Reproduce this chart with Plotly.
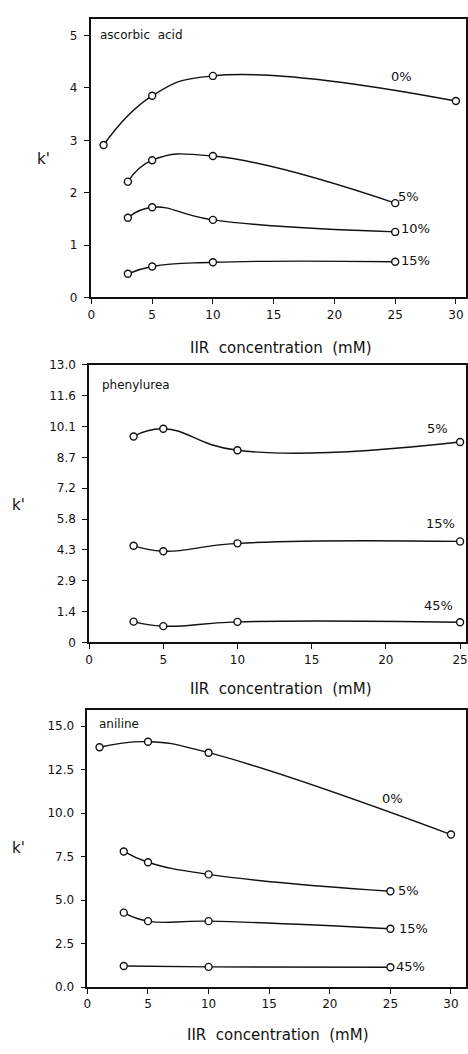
import plotly.graph_objects as go

# ---- data: k' versus IIR concentration (mM) ----
asc_x_0 = [1, 5, 10, 30]
asc_y_0 = [2.91, 3.85, 4.23, 3.75]
asc_x_5 = [3, 5, 10, 25]
asc_y_5 = [2.21, 2.62, 2.70, 1.80]
asc_x_10 = [3, 5, 10, 25]
asc_y_10 = [1.52, 1.72, 1.48, 1.25]
asc_x_15 = [3, 5, 10, 25]
asc_y_15 = [0.45, 0.59, 0.67, 0.68]

phe_x = [3, 5, 10, 25]
phe_y_5 = [9.65, 10.01, 9.00, 9.39]
phe_y_15 = [4.53, 4.27, 4.64, 4.73]
phe_y_45 = [0.97, 0.76, 0.96, 0.94]

ani_x_0 = [1, 5, 10, 30]
ani_y_0 = [13.79, 14.11, 13.48, 8.77]
ani_x_5 = [3, 5, 10, 25]
ani_y_5 = [7.80, 7.18, 6.48, 5.51]
ani_x_15 = [3, 5, 10, 25]
ani_y_15 = [4.28, 3.79, 3.79, 3.35]
ani_x_45 = [3, 10, 25]
ani_y_45 = [1.21, 1.16, 1.14]

asc_ticks = [0, 1, 2, 3, 4, 5]
asc_ticktext = ["0", "1", "2", "3", "4", "5"]
phe_ticks = [0, 13 / 9, 26 / 9, 39 / 9, 52 / 9, 65 / 9, 78 / 9, 91 / 9, 104 / 9, 13]
phe_ticktext = ["0", "1.4", "2.9", "4.3", "5.8", "7.2", "8.7", "10.1", "11.6", "13.0"]
ani_ticks = [0, 2.5, 5, 7.5, 10, 12.5, 15]
ani_ticktext = ["0.0", "2.5", "5.0", "7.5", "10.0", "12.5", "15.0"]

FONT = "DejaVu Sans"
INK = "#111"
W, H = 468, 1054
SP = "\u00a0\u00a0"
XTITLE = "IIR" + SP + "concentration" + SP + "(mM)"

panels = [
    dict(name="ascorbic" + SP + "acid",
         series=[(asc_x_0, asc_y_0, "0%", 25.5, 4.21),
                 (asc_x_5, asc_y_5, "5%", 26.1, 1.93),
                 (asc_x_10, asc_y_10, "10%", 26.7, 1.31),
                 (asc_x_15, asc_y_15, "15%", 26.7, 0.71)],
         px_left=87.5, px_top=13, px_bottom=295, xr=[-0.07, 30.83], yr=[0, 5.32],
         xticks=[0, 5, 10, 15, 20, 25, 30], yticks=asc_ticks, yticktext=asc_ticktext,
         name_xy=(95, 29), k_xy=(40, 155), title_xy=(280, 346)),
    dict(name="phenylurea",
         series=[(phe_x, phe_y_5, "5%", 23.5, 10.04),
                 (phe_x, phe_y_15, "15%", 23.7, 5.57),
                 (phe_x, phe_y_45, "45%", 23.55, 1.74)],
         px_left=86, px_top=363, px_bottom=644.3, xr=[0, 25.4], yr=[0, 13.02],
         xticks=[0, 5, 10, 15, 20, 25], yticks=phe_ticks, yticktext=phe_ticktext,
         name_xy=(97, 384), k_xy=(15, 505), title_xy=(280, 692)),
    dict(name="aniline",
         series=[(ani_x_0, ani_y_0, "0%", 25.2, 10.85),
                 (ani_x_5, ani_y_5, "5%", 26.5, 5.58),
                 (ani_x_15, ani_y_15, "15%", 26.9, 3.35),
                 (ani_x_45, ani_y_45, "45%", 26.7, 1.21)],
         px_left=84.3, px_top=712.7, px_bottom=993.3, xr=[0, 31.24], yr=[0, 15.94],
         xticks=[0, 5, 10, 15, 20, 25, 30], yticks=ani_ticks, yticktext=ani_ticktext,
         name_xy=(94, 727), k_xy=(15, 853), title_xy=(277, 1042)),
]

fig = go.Figure()
layout = dict(
    width=W, height=H,
    margin=dict(l=0, r=0, t=0, b=0),
    paper_bgcolor="white", plot_bgcolor="white",
    showlegend=False,
    font=dict(family=FONT, size=12, color=INK),
)
annotations = []

for i, p in enumerate(panels):
    n = "" if i == 0 else str(i + 1)
    xa, ya = "x" + n, "y" + n
    for xs, ys, lab, lx, ly in p["series"]:
        fig.add_trace(go.Scatter(
            x=xs, y=ys, xaxis=xa, yaxis=ya, mode="lines+markers",
            line=dict(color=INK, width=1.4, shape="spline", smoothing=1.3),
            marker=dict(symbol="circle", size=7, color="white",
                        line=dict(color=INK, width=1.4)),
            cliponaxis=False,
        ))
        annotations.append(dict(x=lx, y=ly, xref=xa, yref=ya, text=lab,
                                showarrow=False, xanchor="center", yanchor="middle",
                                font=dict(family=FONT, size=13, color=INK)))
    dom_x = [p["px_left"] / W, 467 / W]
    dom_y = [1 - p["px_bottom"] / H, 1 - p["px_top"] / H]
    axis_common = dict(showline=True, linecolor=INK, linewidth=1.6, mirror=True,
                       showgrid=False, zeroline=False, ticks="outside",
                       ticklen=5, tickwidth=1.2, tickcolor=INK,
                       tickfont=dict(family=FONT, size=12, color=INK))
    layout["xaxis" + n] = dict(axis_common, domain=dom_x, range=p["xr"],
                               tickvals=p["xticks"], anchor=ya)
    layout["yaxis" + n] = dict(axis_common, domain=dom_y, range=p["yr"],
                               tickvals=p["yticks"], ticktext=p["yticktext"], anchor=xa,
                               ticklabelstandoff=4)
    nx, ny = p["name_xy"]
    annotations.append(dict(x=nx / W, y=1 - ny / H, xref="paper", yref="paper",
                            text=p["name"], showarrow=False, xanchor="left",
                            yanchor="middle", font=dict(family=FONT, size=12, color=INK)))
    kx, ky = p["k_xy"]
    annotations.append(dict(x=kx / W, y=1 - ky / H, xref="paper", yref="paper",
                            text="k'", showarrow=False, xanchor="center",
                            yanchor="middle", font=dict(family=FONT, size=15, color=INK)))
    tx, ty = p["title_xy"]
    annotations.append(dict(x=tx / W, y=1 - ty / H, xref="paper", yref="paper",
                            text=XTITLE, showarrow=False,
                            xanchor="center", yanchor="middle",
                            font=dict(family=FONT, size=15, color=INK)))

layout["annotations"] = annotations
fig.update_layout(**layout)
fig.write_html("out.html")
